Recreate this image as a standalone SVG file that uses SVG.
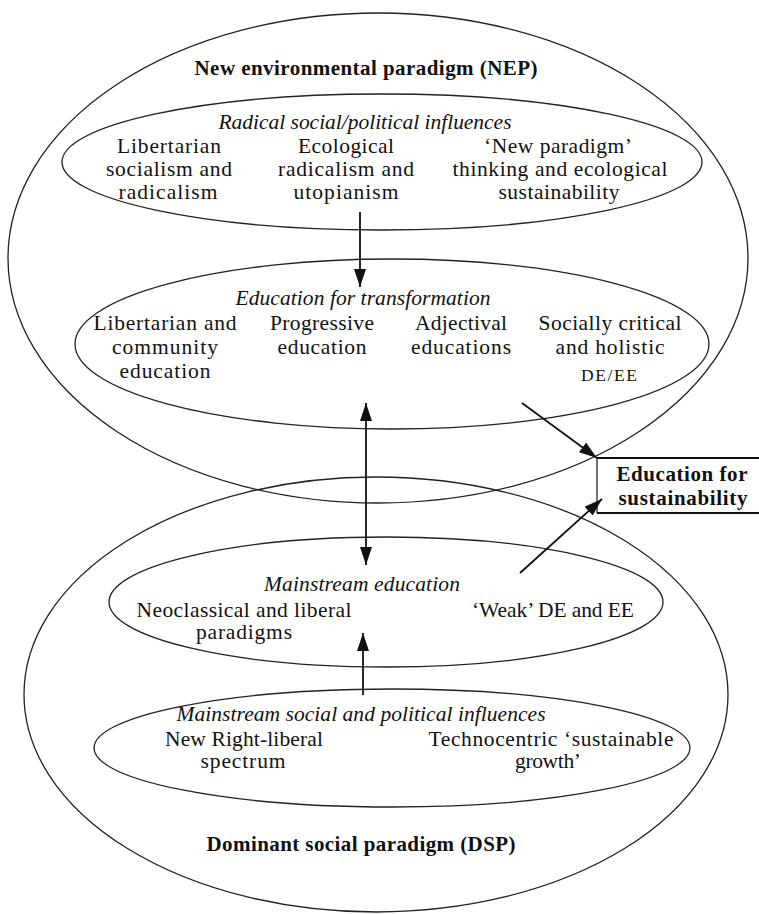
<svg xmlns="http://www.w3.org/2000/svg" width="759" height="914" viewBox="0 0 759 914">
<style>
.e{fill:none;stroke:#222;stroke-width:1.3}
.t{font-family:"Liberation Serif","Times New Roman",serif;font-size:21.5px;fill:#111;text-anchor:middle}
.i{font-style:italic}
.b{font-weight:bold;font-size:21px}
.s{font-size:17.5px}
.c{stroke:#111;stroke-width:1.8;fill:none}
.bx{stroke:#111;fill:none}
</style>
<defs>
<marker id="ah" viewBox="0 0 18 12" refX="18" refY="6" markerWidth="18" markerHeight="12" markerUnits="userSpaceOnUse" orient="auto-start-reverse">
<path d="M0,0 L18,6 L0,12 z" fill="#111"/>
</marker>
</defs>
<rect width="759" height="914" fill="#fff"/>

<g id="nep">
<ellipse class="e" cx="378" cy="258" rx="370" ry="245"/>
<text class="t b" x="366" y="75" textLength="343" lengthAdjust="spacing">New environmental paradigm (NEP)</text>
</g>

<g id="dsp">
<ellipse class="e" cx="376" cy="694.5" rx="352" ry="217.5"/>
<text class="t b" x="361" y="851" textLength="309" lengthAdjust="spacing">Dominant social paradigm (DSP)</text>
</g>

<g id="radical">
<ellipse class="e" cx="382" cy="162" rx="320" ry="68"/>
<text class="t i" x="365" y="129" textLength="293" lengthAdjust="spacing">Radical social/political influences</text>
<text class="t" x="169" y="153" textLength="104" lengthAdjust="spacing">Libertarian</text>
<text class="t" x="169" y="176" textLength="126" lengthAdjust="spacing">socialism and</text>
<text class="t" x="168" y="199" textLength="99" lengthAdjust="spacing">radicalism</text>
<text class="t" x="346" y="153" textLength="96" lengthAdjust="spacing">Ecological</text>
<text class="t" x="346" y="176" textLength="136" lengthAdjust="spacing">radicalism and</text>
<text class="t" x="346" y="199" textLength="105" lengthAdjust="spacing">utopianism</text>
<text class="t" x="558" y="153" textLength="148" lengthAdjust="spacing">‘New paradigm’</text>
<text class="t" x="560" y="176" textLength="215" lengthAdjust="spacing">thinking and ecological</text>
<text class="t" x="559" y="199" textLength="121" lengthAdjust="spacing">sustainability</text>
</g>

<g id="transformation">
<ellipse class="e" cx="392" cy="344" rx="317" ry="85"/>
<text class="t i" x="363" y="305" textLength="255" lengthAdjust="spacing">Education for transformation</text>
<text class="t" x="165" y="330" textLength="143" lengthAdjust="spacing">Libertarian and</text>
<text class="t" x="165" y="354" textLength="106" lengthAdjust="spacing">community</text>
<text class="t" x="165" y="378" textLength="91" lengthAdjust="spacing">education</text>
<text class="t" x="322" y="330" textLength="104" lengthAdjust="spacing">Progressive</text>
<text class="t" x="322" y="354" textLength="89" lengthAdjust="spacing">education</text>
<text class="t" x="461" y="330" textLength="92" lengthAdjust="spacing">Adjectival</text>
<text class="t" x="461" y="354" textLength="100" lengthAdjust="spacing">educations</text>
<text class="t" x="610" y="330" textLength="143" lengthAdjust="spacing">Socially critical</text>
<text class="t" x="610" y="354" textLength="109" lengthAdjust="spacing">and holistic</text>
<text class="t s" x="609" y="381" textLength="56" lengthAdjust="spacing">DE/EE</text>
</g>

<g id="mainstream-education">
<ellipse class="e" cx="386" cy="602" rx="277" ry="65"/>
<text class="t i" x="362" y="591" textLength="196" lengthAdjust="spacing">Mainstream education</text>
<text class="t" x="244" y="617" textLength="215" lengthAdjust="spacing">Neoclassical and liberal</text>
<text class="t" x="244" y="639" textLength="96" lengthAdjust="spacing">paradigms</text>
<text class="t" x="553" y="617" textLength="162" lengthAdjust="spacing">‘Weak’ DE and EE</text>
</g>

<g id="mainstream-influences">
<ellipse class="e" cx="392" cy="748" rx="298" ry="59"/>
<text class="t i" x="361" y="721" textLength="369" lengthAdjust="spacing">Mainstream social and political influences</text>
<text class="t" x="244" y="746" textLength="158" lengthAdjust="spacing">New Right-liberal</text>
<text class="t" x="243" y="768" textLength="85" lengthAdjust="spacing">spectrum</text>
<text class="t" x="551" y="746" textLength="245" lengthAdjust="spacing">Technocentric ‘sustainable</text>
<text class="t" x="548" y="768" textLength="66" lengthAdjust="spacing">growth’</text>
</g>

<g id="efs">
<line class="bx" x1="597" y1="458" x2="759" y2="458" stroke-width="2.2"/>
<line class="bx" x1="597" y1="513" x2="759" y2="513" stroke-width="2.2"/>
<line class="bx" x1="597" y1="458" x2="597" y2="513" stroke-width="1.2"/>
<text class="t b" x="682" y="481" textLength="131" lengthAdjust="spacing">Education for</text>
<text class="t b" x="683" y="505" textLength="129" lengthAdjust="spacing">sustainability</text>
</g>

<g id="connectors">
<line class="c" x1="360" y1="212" x2="360" y2="287" marker-end="url(#ah)"/>
<line class="c" x1="366" y1="403" x2="366" y2="565" marker-start="url(#ah)" marker-end="url(#ah)"/>
<line class="c" x1="363" y1="695" x2="363" y2="633" marker-end="url(#ah)"/>
<line class="c" x1="522" y1="403" x2="597" y2="458" marker-end="url(#ah)"/>
<line class="c" x1="520" y1="573" x2="602" y2="499" marker-end="url(#ah)"/>
</g>
</svg>
